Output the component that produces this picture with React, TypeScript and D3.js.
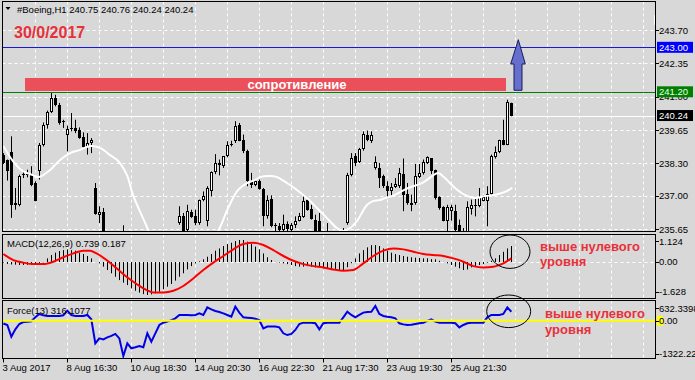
import React from 'react';
import * as d3 from 'd3';

// ---------- DATA ----------
const opens = [238.66,238.46,238.77,236.70,236.61,237.82,237.85,237.82,237.51,237.98,239.06,239.84,240.38,240.95,240.68,240.01,239.44,239.74,239.74,239.67,239.37,238.95,239.13,237.31,236.23,236.34,235.20,234.60,234.80,234.40,234.90,235.20,234.60,234.00,234.20,233.90,233.60,234.20,233.80,234.40,234.70,234.90,235.00,235.20,235.89,236.16,235.62,236.34,236.16,235.89,236.84,235.96,237.17,237.96,238.32,238.19,238.59,239.06,239.22,239.87,239.26,238.82,237.58,237.44,237.58,237.28,236.16,236.88,235.80,235.76,235.62,235.85,235.62,235.80,235.99,236.12,236.84,236.47,236.03,235.96,235.20,235.00,235.30,234.90,235.10,235.20,235.89,237.85,238.59,238.36,238.89,239.47,239.22,238.12,238.12,237.78,237.38,237.17,237.34,237.38,237.87,237.07,236.70,236.70,237.74,237.92,238.32,238.52,238.05,236.93,236.53,235.99,236.39,236.39,235.80,235.30,235.20,236.47,236.61,236.57,236.80,236.77,237.07,238.55,238.77,239.26,239.06,240.75];
const highs = [238.72,238.46,239.40,237.31,237.85,238.01,238.05,238.19,237.58,239.13,239.96,240.44,241.15,241.08,240.75,240.07,239.83,240.34,240.07,239.76,239.56,239.53,239.33,237.51,236.57,236.50,235.35,235.00,235.10,235.00,235.80,235.40,234.90,234.40,234.50,234.20,234.30,234.40,234.50,234.90,235.10,235.20,235.30,235.45,236.57,236.30,236.63,236.43,236.43,236.84,237.17,237.38,237.98,238.68,238.46,238.59,239.20,239.22,240.01,239.94,239.47,238.86,237.92,237.65,237.65,237.31,237.01,237.01,235.89,235.89,236.23,235.96,235.89,236.16,236.30,236.97,236.90,236.63,236.23,236.30,235.45,235.89,235.45,235.30,235.40,235.69,237.92,238.72,238.72,238.93,239.60,239.63,239.60,238.59,238.32,237.85,237.58,237.51,237.71,238.12,238.50,237.51,237.04,238.28,238.28,238.46,238.59,238.52,238.05,236.97,236.57,236.63,236.63,236.63,236.03,235.69,236.77,236.84,236.90,237.31,237.01,237.38,238.66,238.99,239.26,240.07,240.88,240.76];
const lows = [238.28,237.61,236.10,236.43,236.57,237.71,237.74,237.38,236.77,237.65,238.99,239.71,240.34,240.61,239.87,239.74,238.79,239.60,239.53,239.30,238.93,238.66,238.72,236.23,235.89,235.00,234.40,234.30,234.20,234.20,234.70,234.50,233.90,233.70,233.80,233.40,233.50,233.60,233.70,234.20,234.50,234.60,234.70,235.00,235.82,235.53,235.53,236.10,235.80,235.82,236.77,235.76,236.97,237.87,237.82,238.12,238.55,238.99,239.13,239.20,238.72,237.38,237.31,237.38,237.24,235.76,236.07,235.72,235.40,235.56,235.53,235.45,235.50,235.69,235.96,236.10,236.39,236.03,235.45,235.00,234.90,234.80,234.70,234.60,234.80,235.00,235.82,237.78,238.19,238.32,238.82,239.20,239.13,238.05,237.31,237.31,236.90,236.97,237.31,237.31,236.37,236.63,236.37,236.63,237.71,237.85,238.28,237.87,236.84,236.43,235.96,235.45,235.99,235.56,235.00,234.90,235.00,236.23,236.16,236.53,236.77,235.76,237.04,238.50,238.72,239.04,239.04,240.21];
const closes = [238.32,237.98,236.63,236.61,237.78,237.87,237.87,237.44,236.80,239.06,239.84,240.38,240.95,240.68,239.94,239.96,239.71,239.71,239.63,239.33,238.95,239.13,239.26,236.25,236.34,235.20,234.60,234.80,234.40,234.90,235.20,234.60,234.00,234.20,233.90,233.60,234.20,233.80,234.40,234.70,234.90,235.00,235.20,235.40,236.16,235.56,236.37,236.12,235.89,236.84,236.97,237.31,237.96,238.32,238.23,238.59,239.06,239.08,239.80,239.22,238.82,237.58,237.44,237.58,237.28,236.16,236.84,235.76,235.81,235.62,235.85,235.65,235.82,235.99,236.16,236.80,236.43,236.07,235.56,235.20,235.00,235.30,234.90,235.10,235.20,235.40,237.85,238.52,238.32,238.89,239.49,239.26,239.47,238.36,237.71,237.38,237.17,237.34,237.47,237.92,237.04,236.70,236.63,237.78,237.92,238.36,238.55,237.98,236.90,236.50,235.99,236.53,236.53,235.62,235.30,235.20,236.53,236.63,236.62,236.93,236.93,237.07,238.59,238.77,239.26,239.06,240.79,240.24];

const maIdx = [0,2.4,4.9,7.4,8.9,11.7,14.2,16.7,19.2,21.7,24.2,26.7,28.7,30.9,32.4,35.9,37.2,40.4,44.7,49.2,53.7,56.2,58.7,60.9,62.9,64.2,66.7,68.4,70.9,73.4,75.9,78.4,80.9,83.4,84.9,86.7,88.4,90.9,92.4,94.2,95.4,97.9,101.2,104.7,107.2,108.7,110.4,112.9,115.4,117.9,120.4,122.9,125.4,127.2];
const maVal = [239.01,238.40,237.99,237.83,237.75,238.04,238.44,238.72,238.85,239.01,238.93,238.64,238.40,237.83,237.03,235.73,235.20,234.60,234.20,234.60,235.57,236.50,237.23,237.51,237.63,237.75,237.79,237.75,237.51,237.23,236.90,236.50,236.09,235.69,235.57,235.69,235.97,236.62,236.78,236.82,236.90,237.03,237.31,237.51,237.79,237.92,237.71,237.31,237.03,236.90,236.98,237.03,237.15,237.31];

const macdHist = [-0.05,-0.12,-0.15,-0.16,-0.18,-0.18,-0.17,-0.15,-0.12,-0.08,-0.03,
  0.18,0.36,0.49,0.58,0.63,0.67,0.63,0.6,0.49,0.42,0.31,0.18,
  -0.02,-0.09,-0.27,-0.45,-0.63,-0.82,-1.0,-1.14,-1.27,-1.45,-1.58,-1.68,-1.76,-1.81,-1.78,-1.72,-1.63,-1.5,-1.36,-1.21,-1.03,-0.82,-0.63,-0.42,-0.24,-0.09,
  0.02,0.13,0.27,0.42,0.6,0.72,0.85,0.96,1.03,1.12,1.18,1.18,1.09,0.96,0.82,0.67,0.45,0.24,0.09,
  -0.01,-0.05,-0.09,-0.13,-0.18,-0.24,-0.27,-0.27,-0.24,-0.27,-0.31,-0.31,-0.36,-0.36,-0.42,-0.42,-0.45,-0.47,-0.3,-0.08,
  0.18,0.45,0.63,0.78,0.9,0.9,0.85,0.72,0.6,0.49,0.42,0.36,0.31,0.27,0.24,0.22,0.2,0.18,0.18,0.14,0.13,0.05,-0.01,
  -0.09,-0.18,-0.27,-0.36,-0.45,-0.42,-0.31,-0.24,-0.18,-0.13,-0.05,0.05,0.18,0.36,0.54,0.72,0.85];

const sigIdx = [0,2.5,5,7.5,10,12.5,15,17.5,20,21.7,23.3,25.8,28.3,30.8,33.3,35.8,37.5,40,42.5,45,47.5,50,52.5,55,57.5,60,62.5,65,67.5,70,72.5,75,77.5,80,82.5,85,87.5,90,92.5,95,97.5,100,102.5,105,107.5,110,112.5,115,117.5,120,122.5,125,127];
const sigVal = [0.42,0.09,-0.05,-0.13,-0.13,0,0.24,0.45,0.6,0.6,0.45,0.09,-0.36,-0.82,-1.21,-1.54,-1.67,-1.67,-1.58,-1.32,-0.91,-0.45,-0.05,0.31,0.67,0.96,1.03,0.91,0.63,0.31,0.05,-0.13,-0.24,-0.31,-0.42,-0.49,-0.45,-0.09,0.31,0.6,0.72,0.67,0.54,0.42,0.36,0.31,0.18,0,-0.24,-0.31,-0.27,-0.09,0.18];

const force = [-108,-170,-640,-345,-130,-50,-35,-20,140,275,220,195,195,195,195,220,410,235,195,195,195,235,60,-910,-710,-750,-670,-610,-530,-710,-1420,-910,-1110,-1070,-1020,-1070,-505,-840,-505,-170,-75,-35,30,100,235,235,235,220,235,300,235,540,460,395,355,300,235,165,570,330,140,125,110,85,30,-305,-235,-235,-235,-265,-505,-575,-530,-370,-130,-75,-75,-75,-100,-345,-100,-75,-75,-75,-75,140,365,235,140,235,330,355,365,600,275,195,165,140,100,-100,-145,-170,-160,-130,-100,-75,0,60,-35,-75,-75,-75,-75,-100,-265,-170,-100,-75,-75,-75,-75,140,235,235,235,275,540,365];

const priceTicks = [243.70, 242.35, 241.00, 239.65, 238.30, 237.00, 235.65];
const levelLines = [
  { v: 243.00, label: '243.00', color: '#1818d8', box: '#0000ff', text: '#ffffff' },
  { v: 241.20, label: '241.20', color: '#008000', box: '#008000', text: '#e8ffe8' },
  { v: 240.24, label: '240.24', color: '#ffffff', box: '#000000', text: '#ffffff' },
];
const macdTicks = [1.124, 0, -1.628];
const macdTickLabels = ['1.124', '0.00', '-1.628'];
const forceTicks = [632.3398, 0, -1322.22];
const forceTickLabels = ['632.3398', '0.00', '-1322.22'];
const xLabels = ['3 Aug 2017', '8 Aug 16:30', '10 Aug 18:30', '14 Aug 20:30', '16 Aug 22:30', '21 Aug 17:30', '23 Aug 19:30', '25 Aug 21:30'];

// ---------- LAYOUT ----------
const W = 695, H = 380;
const L = 2.5, R = 655.5;
const main = { top: 1.5, bottom: 231.5 };
const mp = { top: 234.5, bottom: 298.5 };
const fp = { top: 300.5, bottom: 358.5 };
const BG = '#d8d8d8';
const RED = '#e8303a';
const FONT = '"Liberation Sans", Arial, sans-serif';

export default function App() {
  const x = d3.scaleLinear().domain([0, 127]).range([3.33, 511.33]);
  const cx = (i: number) => Math.floor(x(i)) + 0.5;
  const yP = d3.scaleLinear().domain([235.65, 243.70]).range([229, 30]);
  const yM = d3.scaleLinear().domain([0, 1]).range([261.7, 243.3]);
  const yF = d3.scaleLinear().domain([0, 1000]).range([320.8, 296.02]);

  const gridX: number[] = [];
  for (let k = 1; k <= 20; k++) gridX.push(Math.floor(x(8 * k)) + 0.5);

  const maLine = d3.line<number>().x((_, i) => x(maIdx[i])).y((d) => yP(d)).curve(d3.curveCatmullRom)(maVal) || '';
  const sigLine = d3.line<number>().x((_, i) => x(sigIdx[i])).y((d) => yM(d)).curve(d3.curveMonotoneX)(sigVal) || '';
  const forceLine = d3.line<number>().x((_, i) => x(i)).y((d) => yF(d))(force) || '';

  const dash = '3,3';
  const rightLabel = (y: number, t: string, key: string, minY?: number, maxY?: number) => {
    let yy = y;
    if (minY !== undefined) yy = Math.max(yy, minY);
    if (maxY !== undefined) yy = Math.min(yy, maxY);
    return (
      <g key={key}>
        <line x1={R} x2={R + 3.5} y1={Math.round(yy) + 0.5} y2={Math.round(yy) + 0.5} stroke="#000" />
        <text x={659} y={yy + 3.5} fontSize={9.5} fontFamily={FONT} fill="#000">{t}</text>
      </g>
    );
  };

  const vGrid = (top: number, bottom: number, k: string) =>
    gridX.map((gx, i) => (
      <line key={k + i} x1={gx} x2={gx} y1={top} y2={bottom} stroke="#fff" strokeDasharray={dash} />
    ));

  const hy = (v: number) => Math.round(yP(v)) + 0.5;

  return (
    <svg width={W} height={H} style={{ position: 'absolute', left: 0, top: 0 }} xmlns="http://www.w3.org/2000/svg">
      <defs>
        <clipPath id="cm"><rect x={L + 0.5} y={main.top + 0.5} width={R - L - 1} height={main.bottom - main.top - 1} /></clipPath>
        <clipPath id="cmacd"><rect x={L + 0.5} y={mp.top + 0.5} width={R - L - 1} height={mp.bottom - mp.top - 1} /></clipPath>
        <clipPath id="cf"><rect x={L + 0.5} y={fp.top + 0.5} width={R - L - 1} height={fp.bottom - fp.top - 1} /></clipPath>
      </defs>
      <rect x={0} y={0} width={W} height={H} fill={BG} />

      {/* ---------- MAIN PANEL ---------- */}
      <g clipPath="url(#cm)">
        {vGrid(main.top, main.bottom, 'mg')}
        {priceTicks.map((v, i) => (
          <line key={'hg' + i} x1={L} x2={R} y1={hy(v)} y2={hy(v)} stroke="#fff" strokeDasharray={dash} />
        ))}
        <line x1={L} x2={R} y1={hy(levelLines[0].v)} y2={hy(levelLines[0].v)} stroke={levelLines[0].color} />
        <rect x={25} y={78} width={481} height={13} fill="#ea4f5a" />
        <text x={297} y={88.5} textAnchor="middle" fontSize={13} fontWeight="bold" fontFamily={FONT} fill="#fff">сопротивление</text>
        <line x1={L} x2={R} y1={hy(levelLines[1].v)} y2={hy(levelLines[1].v)} stroke={levelLines[1].color} />
        <line x1={L} x2={R} y1={hy(levelLines[2].v)} y2={hy(levelLines[2].v)} stroke={levelLines[2].color} />
        {opens.map((o, i) => {
          const c = closes[i];
          const X = cx(i);
          const top = Math.round(yP(Math.max(o, c)));
          const bot = Math.round(yP(Math.min(o, c)));
          const bull = c >= o;
          return (
            <g key={'c' + i}>
              <line x1={X} x2={X} y1={yP(highs[i])} y2={yP(lows[i])} stroke="#000" />
              {bot - top < 1 ? (
                <line x1={X - 1.5} x2={X + 1.5} y1={top + 0.5} y2={top + 0.5} stroke="#000" />
              ) : bot - top <= 2 ? (
                <rect x={X - 1.5} y={top} width={3} height={bot - top} fill="#000" />
              ) : (
                <rect x={X - 1} y={top + 0.5} width={2} height={bot - top - 1} fill={bull ? '#fff' : '#000'} stroke="#000" />
              )}
            </g>
          );
        })}
        <path d={maLine} fill="none" stroke="#fff" strokeWidth={2} />
        <polygon points="514,90.3 522,90.3 522,64 525.3,64 518.3,39.7 510.7,64 514,64" fill="#6670cc" stroke="#1a1a60" strokeWidth={1} />
        <rect x={654} y={15} width={3} height={10} fill="#fff" />
      </g>
      <path d="M10.5,7 L5.5,7 L8,10 Z" fill="#000" />
      <text x={17} y={13} fontSize={9.5} fontFamily={FONT} fill="#000">#Boeing,H1  240.75 240.76 240.24 240.24</text>
      <text x={14} y={38} fontSize={16} fontWeight="bold" fontFamily={FONT} fill={RED}>30/0/2017</text>
      <rect x={L} y={main.top} width={R - L} height={main.bottom - main.top} fill="none" stroke="#000" />
      {priceTicks.map((v, i) => rightLabel(yP(v), v.toFixed(2), 'pt' + i))}
      {levelLines.map((l, i) => (
        <g key={'lv' + i}>
          <rect x={657} y={yP(l.v) - 5.5} width={36} height={11} fill={l.box} />
          <text x={659} y={yP(l.v) + 3.5} fontSize={9.5} fontFamily={FONT} fill={l.text}>{l.label}</text>
        </g>
      ))}

      {/* ---------- MACD PANEL ---------- */}
      <g clipPath="url(#cmacd)">
        {vGrid(mp.top, mp.bottom, 'mcg')}
        <line x1={L} x2={R} y1={Math.round(yM(0)) + 0.5} y2={Math.round(yM(0)) + 0.5} stroke="#fff" strokeDasharray={dash} />
        {macdHist.map((v, i) => (
          <line key={'h' + i} x1={cx(i)} x2={cx(i)} y1={Math.round(yM(0))} y2={yM(v)} stroke="#000" />
        ))}
        <path d={sigLine} fill="none" stroke="#ff0000" strokeWidth={2} />
      </g>
      <rect x={L} y={mp.top} width={R - L} height={mp.bottom - mp.top} fill="none" stroke="#000" />
      <text x={7} y={246.5} fontSize={9.5} fontFamily={FONT} fill="#000">MACD(12,26,9) 0.739 0.187</text>
      {macdTicks.map((v, i) => rightLabel(yM(v), macdTickLabels[i], 'mt' + i))}
      <ellipse cx={510} cy={251.7} rx={20} ry={16.7} fill="none" stroke="#000" />
      <text x={540} y={251} fontSize={13} fontWeight="bold" fontFamily={FONT} fill={RED}>выше нулевого</text>
      <text x={540} y={265.5} fontSize={13} fontWeight="bold" fontFamily={FONT} fill={RED}>уровня</text>

      {/* ---------- FORCE PANEL ---------- */}
      <g clipPath="url(#cf)">
        {vGrid(fp.top, fp.bottom, 'fg')}
        <path d={forceLine} fill="none" stroke="#0000e6" strokeWidth={2} />
        <line x1={L} x2={R} y1={yF(0)} y2={yF(0)} stroke="#ffff00" strokeWidth={2} />
      </g>
      <rect x={L} y={fp.top} width={R - L} height={fp.bottom - fp.top} fill="none" stroke="#000" />
      <text x={7} y={314} fontSize={9.5} fontFamily={FONT} fill="#000">Force(13) 316.1077</text>
      <rect x={657} y={yF(0) - 5} width={6} height={10} fill="#ffff00" />
      {forceTicks.map((v, i) => rightLabel(yF(v), forceTickLabels[i], 'ft' + i, fp.top + 7.5, fp.bottom - 5))}
      <ellipse cx={508.7} cy={311.3} rx={22} ry={16.3} fill="none" stroke="#000" />
      <text x={545} y={317.5} fontSize={13} fontWeight="bold" fontFamily={FONT} fill={RED}>выше нулевого</text>
      <text x={545} y={334} fontSize={13} fontWeight="bold" fontFamily={FONT} fill={RED}>уровня</text>

      {/* ---------- X AXIS ---------- */}
      {xLabels.map((t, k) => {
        const X = cx(16 * k);
        return (
          <g key={'xl' + k}>
            <line x1={X} x2={X} y1={fp.bottom} y2={fp.bottom + 4} stroke="#000" />
            <text x={X - 1} y={371} fontSize={9.5} fontFamily={FONT} fill="#000">{t}</text>
          </g>
        );
      })}
    </svg>
  );
}
